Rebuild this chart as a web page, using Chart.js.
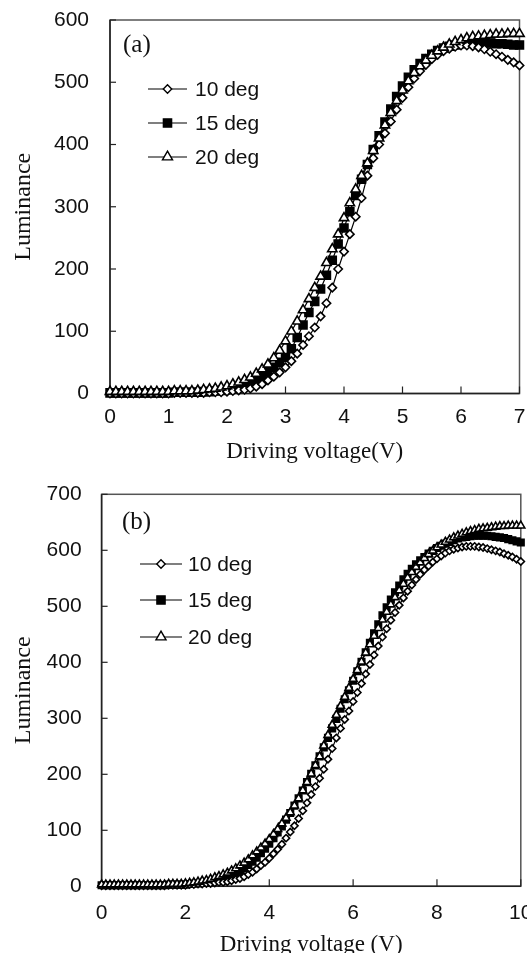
<!DOCTYPE html>
<html>
<head>
<meta charset="utf-8">
<script src="https://cdn.jsdelivr.net/npm/chart.js@4.4.0/dist/chart.umd.min.js"></script>
<style>
  html, body { margin: 0; padding: 0; background: #fff; overflow: hidden; }
  #wrapA { position: absolute; left: 0; top: 0; }
  #wrapB { position: absolute; left: 0; top: 470px; }
</style>
</head>
<body>
<div id="wrapA"><canvas id="chartA" width="527" height="470"></canvas></div>
<div id="wrapB"><canvas id="chartB" width="527" height="500"></canvas></div>
<script>
// ---- panel (a) ----
const voltageA = [0.0, 0.1, 0.2, 0.3, 0.4, 0.5, 0.6, 0.7, 0.8, 0.9,
  1.0, 1.1, 1.2, 1.3, 1.4, 1.5, 1.6, 1.7, 1.8, 1.9,
  2.0, 2.1, 2.2, 2.3, 2.4, 2.5, 2.6, 2.7, 2.8, 2.9,
  3.0, 3.1, 3.2, 3.3, 3.4, 3.5, 3.6, 3.7, 3.8, 3.9,
  4.0, 4.1, 4.2, 4.3, 4.4, 4.5, 4.6, 4.7, 4.8, 4.9,
  5.0, 5.1, 5.2, 5.3, 5.4, 5.5, 5.6, 5.7, 5.8, 5.9,
  6.0, 6.1, 6.2, 6.3, 6.4, 6.5, 6.6, 6.7, 6.8, 6.9, 7.0];
const lum10A = [0, 0, 0, 0, 0, 0, 0, 0, 0, 0,
  0, 1, 1, 1, 1, 1, 1, 2, 2, 2,
  3, 4, 5, 6, 8, 11, 15, 21, 27, 34,
  42, 52, 64, 78, 92, 106, 124, 145, 170, 200,
  228, 256, 284, 314, 350, 378, 400, 418, 437, 456,
  475, 492, 506, 518, 528, 537, 544, 550, 554, 557,
  559, 559, 558, 556, 553, 549, 545, 541, 536, 532, 527];
const lum15A = [1, 1, 1, 1, 1, 1, 1, 1, 1, 1,
  1, 2, 2, 2, 2, 2, 3, 3, 4, 5,
  6, 8, 10, 13, 17, 22, 28, 35, 42, 50,
  58, 72, 90, 110, 130, 148, 168, 190, 214, 240,
  266, 292, 318, 344, 368, 392, 414, 436, 457, 477,
  494, 508, 520, 530, 538, 545, 551, 555, 558, 560,
  562, 563, 563, 563, 563, 563, 562, 562, 561, 560, 560];
const lum20A = [3, 3, 3, 3, 3, 3, 3, 3, 3, 3,
  3, 4, 4, 4, 4, 5, 6, 7, 8, 10,
  12, 15, 18, 22, 26, 32, 39, 47, 57, 69,
  84, 100, 116, 134, 152, 170, 188, 210, 232, 256,
  282, 306, 328, 350, 370, 390, 410, 431, 451, 470,
  487, 502, 515, 526, 535, 543, 550, 556, 561, 565,
  568, 571, 573, 574, 575, 576, 577, 577, 578, 578, 578];

// ---- panel (b) ----
const voltageB = [0.0, 0.1, 0.2, 0.3, 0.4, 0.5, 0.6, 0.7, 0.8, 0.9,
  1.0, 1.1, 1.2, 1.3, 1.4, 1.5, 1.6, 1.7, 1.8, 1.9,
  2.0, 2.1, 2.2, 2.3, 2.4, 2.5, 2.6, 2.7, 2.8, 2.9,
  3.0, 3.1, 3.2, 3.3, 3.4, 3.5, 3.6, 3.7, 3.8, 3.9,
  4.0, 4.1, 4.2, 4.3, 4.4, 4.5, 4.6, 4.7, 4.8, 4.9,
  5.0, 5.1, 5.2, 5.3, 5.4, 5.5, 5.6, 5.7, 5.8, 5.9,
  6.0, 6.1, 6.2, 6.3, 6.4, 6.5, 6.6, 6.7, 6.8, 6.9,
  7.0, 7.1, 7.2, 7.3, 7.4, 7.5, 7.6, 7.7, 7.8, 7.9,
  8.0, 8.1, 8.2, 8.3, 8.4, 8.5, 8.6, 8.7, 8.8, 8.9,
  9.0, 9.1, 9.2, 9.3, 9.4, 9.5, 9.6, 9.7, 9.8, 9.9, 10.0];
const lum10B = [1, 1, 1, 1, 1, 1, 1, 1, 1, 1,
  1, 1, 1, 1, 1, 1, 2, 2, 2, 2,
  2, 3, 3, 4, 4, 5, 5, 6, 7, 7,
  8, 10, 12, 14, 17, 21, 25, 31, 37, 43,
  50, 58, 66, 75, 86, 97, 108, 121, 135, 149,
  164, 178, 193, 209, 227, 246, 265, 282, 298, 313,
  330, 346, 362, 379, 396, 413, 429, 445, 460, 475,
  489, 502, 515, 527, 538, 548, 557, 565, 572, 579,
  585, 590, 595, 599, 602, 604, 606, 607, 607, 607,
  606, 605, 603, 601, 599, 597, 594, 591, 588, 584, 580];
const lum15B = [2, 2, 2, 2, 2, 2, 2, 2, 2, 2,
  2, 2, 2, 2, 2, 2, 3, 3, 3, 3,
  3, 4, 5, 5, 6, 7, 9, 10, 12, 14,
  16, 19, 23, 27, 32, 38, 44, 51, 59, 67,
  76, 86, 96, 107, 119, 131, 144, 157, 171, 186,
  201, 216, 232, 248, 265, 282, 299, 317, 334, 350,
  367, 384, 401, 418, 435, 452, 468, 484, 498, 512,
  525, 537, 548, 558, 567, 575, 582, 588, 594, 599,
  604, 608, 612, 615, 618, 621, 623, 624, 625, 626,
  626, 626, 626, 625, 624, 623, 622, 620, 618, 616, 614];
const lum20B = [3, 3, 3, 3, 3, 3, 3, 3, 3, 3,
  3, 3, 3, 3, 3, 3, 4, 4, 4, 4,
  5, 6, 7, 8, 10, 11, 13, 16, 18, 21,
  24, 28, 32, 37, 42, 48, 55, 62, 69, 76,
  84, 93, 102, 112, 122, 132, 144, 157, 171, 186,
  201, 216, 232, 251, 270, 288, 306, 322, 338, 354,
  370, 386, 401, 417, 432, 447, 461, 476, 490, 503,
  516, 528, 540, 551, 561, 570, 578, 586, 593, 599,
  605, 610, 615, 619, 623, 626, 629, 632, 634, 636,
  638, 639, 640, 641, 642, 643, 643, 644, 644, 644, 644];

const seriesLabels = ["10 deg", "15 deg", "20 deg"];

function toPoints(xs, ys) {
  return xs.map((x, i) => ({ x: x, y: ys[i] }));
}

// frame round the plot and inward tick marks
const framePlugin = {
  id: "frame",
  beforeDatasetsDraw(chart) {
    const { ctx, chartArea: a, scales } = chart;
    ctx.save();
    ctx.strokeStyle = "#555";
    ctx.lineWidth = 1.5;
    ctx.strokeRect(a.left, a.top, a.right - a.left, a.bottom - a.top);
    ctx.strokeStyle = "#222";
    ctx.beginPath();
    ctx.moveTo(a.left, a.top);
    ctx.lineTo(a.left, a.bottom);
    ctx.lineTo(a.right, a.bottom);
    ctx.stroke();
    ctx.lineWidth = 1.2;
    scales.x.ticks.forEach((t) => {
      const px = scales.x.getPixelForValue(t.value);
      ctx.beginPath();
      ctx.moveTo(px, a.bottom);
      ctx.lineTo(px, a.bottom - 7);
      ctx.stroke();
    });
    scales.y.ticks.forEach((t) => {
      const py = scales.y.getPixelForValue(t.value);
      ctx.beginPath();
      ctx.moveTo(a.left, py);
      ctx.lineTo(a.left + 6, py);
      ctx.stroke();
    });
    ctx.restore();
  },
};

// legend inside the plot, line + marker + text, plus panel letter
const insideLegend = {
  id: "insideLegend",
  afterDraw(chart, args, opts) {
    const ctx = chart.ctx;
    ctx.save();
    chart.data.datasets.forEach((ds, i) => {
      const y = opts.rows[i];
      ctx.strokeStyle = "#000";
      ctx.lineWidth = 1.2;
      ctx.beginPath();
      ctx.moveTo(opts.x0, y);
      ctx.lineTo(opts.x1, y);
      ctx.stroke();
      ctx.fillStyle = ds.pointBackgroundColor;
      ctx.strokeStyle = "#000";
      ctx.lineWidth = 1.4;
      Chart.helpers.drawPoint(ctx, {
        pointStyle: ds.pointStyle,
        radius: opts.radii[i],
        rotation: 0,
        borderWidth: 1.4,
      }, (opts.x0 + opts.x1) / 2, y);
      ctx.fillStyle = "#111";
      ctx.font = "21px 'Liberation Sans'";
      ctx.textAlign = "left";
      ctx.textBaseline = "middle";
      ctx.fillText(ds.label, opts.textX, y + 1);
    });
    ctx.font = "25px 'Liberation Serif'";
    ctx.fillStyle = "#111";
    ctx.textAlign = "left";
    ctx.textBaseline = "middle";
    ctx.fillText(opts.panel, opts.panelX, opts.panelY);
    ctx.restore();
  },
};

function makeDatasets(xs, s10, s15, s20, r) {
  return [
    {
      label: seriesLabels[0],
      data: toPoints(xs, s10),
      pointStyle: "rectRot",
      pointRadius: r[0],
      pointBackgroundColor: "#fff",
      order: 1,
    },
    {
      label: seriesLabels[1],
      data: toPoints(xs, s15),
      pointStyle: "rect",
      pointRadius: r[1],
      pointBackgroundColor: "#000",
      order: 2,
    },
    {
      label: seriesLabels[2],
      data: toPoints(xs, s20),
      pointStyle: "triangle",
      pointRadius: r[2],
      pointBackgroundColor: "#fff",
      order: 0,
    },
  ].map((d) => Object.assign(d, {
    borderColor: "#000",
    borderWidth: 1.2,
    pointBorderColor: "#000",
    pointBorderWidth: 1.6,
    tension: 0,
    fill: false,
    clip: false,
  }));
}

function makeOptions(cfg) {
  return {
    responsive: false,
    animation: false,
    events: [],
    layout: { padding: { top: cfg.padTop, right: cfg.padRight, left: 0, bottom: 0 } },
    plugins: {
      legend: { display: false },
      tooltip: { enabled: false },
      insideLegend: cfg.legend,
    },
    scales: {
      x: {
        type: "linear",
        min: 0,
        max: cfg.xMax,
        afterFit: (s) => { s.height = cfg.xHeight; s.paddingLeft = 0; s.paddingRight = 0; },
        grid: { display: false, drawTicks: false },
        border: { display: false },
        ticks: {
          stepSize: cfg.xStep,
          padding: cfg.xTickPad,
          maxRotation: 0,
          color: "#111",
          font: { family: "Liberation Sans", size: 21 },
        },
        title: {
          display: true,
          text: cfg.xTitle,
          color: "#111",
          font: { family: "Liberation Serif", size: 23 },
          padding: { top: 0, bottom: cfg.xTitlePad },
        },
      },
      y: {
        min: 0,
        max: cfg.yMax,
        afterFit: (s) => { s.width = cfg.yWidth; s.paddingTop = 0; s.paddingBottom = 0; },
        grid: { display: false, drawTicks: false },
        border: { display: false },
        ticks: {
          stepSize: 100,
          padding: cfg.yTickPad,
          color: "#111",
          font: { family: "Liberation Sans", size: 21 },
        },
        title: {
          display: true,
          text: "Luminance",
          color: "#111",
          font: { family: "Liberation Serif", size: 24 },
          padding: { top: cfg.yTitlePad, bottom: 0 },
        },
      },
    },
  };
}

new Chart(document.getElementById("chartA").getContext("2d"), {
  type: "line",
  data: { datasets: makeDatasets(voltageA, lum10A, lum15A, lum20A, [4.2, 5.6, 5.4]) },
  options: makeOptions({
    padTop: 20, padRight: 7.5, xMax: 7, xStep: 1, xHeight: 76.5,
    xTickPad: 11, xTitle: "Driving voltage(V)", xTitlePad: 4.2,
    yMax: 600, yWidth: 110, yTickPad: 21, yTitlePad: 9.6,
    legend: {
      x0: 148, x1: 187, textX: 195, rows: [89, 123, 157], radii: [4.2, 5.8, 5.8],
      panel: "(a)", panelX: 123, panelY: 45,
    },
  }),
  plugins: [framePlugin, insideLegend],
});

new Chart(document.getElementById("chartB").getContext("2d"), {
  type: "line",
  data: { datasets: makeDatasets(voltageB, lum10B, lum15B, lum20B, [3.6, 4.6, 4.6]) },
  options: makeOptions({
    padTop: 24.3, padRight: 4.4, xMax: 10, xStep: 2, xHeight: 83.7,
    xTickPad: 14, xTitle: "Driving voltage (V)", xTitlePad: 11.2,
    yMax: 700, yWidth: 101.6, yTickPad: 20, yTitlePad: 9.6,
    legend: {
      x0: 140, x1: 182, textX: 188, rows: [94, 130, 167], radii: [4.2, 5.8, 5.8],
      panel: "(b)", panelX: 122, panelY: 52,
    },
  }),
  plugins: [framePlugin, insideLegend],
});
</script>
</body>
</html>
